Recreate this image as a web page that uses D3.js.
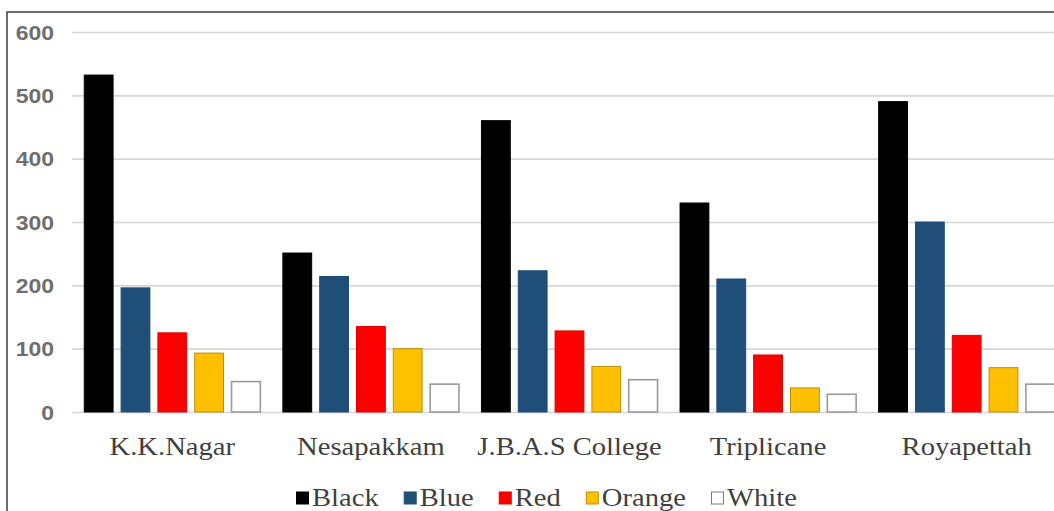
<!DOCTYPE html>
<html>
<head>
<meta charset="utf-8">
<script src="https://cdn.jsdelivr.net/npm/d3@7/dist/d3.min.js"></script>
<style>
  html, body { margin: 0; padding: 0; background: #fff; overflow: hidden; }
  svg { display: block; }
</style>
</head>
<body>
<svg id="chart" width="1054" height="511"></svg>
<script>
// Locations surveyed and the colour groups counted at each
const locations = ["K.K.Nagar", "Nesapakkam", "J.B.A.S College", "Triplicane", "Royapettah"];
const colourNames = ["Black", "Blue", "Red", "Orange", "White"];

// Counts per colour, in the order of locations
const blackCounts  = [532, 251, 460, 330, 490];
const blueCounts   = [196, 214, 223, 210, 300];
const redCounts    = [125, 135, 128, 90, 121];
const orangeCounts = [93, 100, 72, 38, 70];
const whiteCounts  = [48, 44, 51, 28, 44];

const yTicks = [0, 100, 200, 300, 400, 500, 600];

const fills   = { Black: "#000000", Blue: "#1f4e79", Red: "#ff0000", Orange: "#ffc000", White: "#ffffff" };
const strokes = { Black: "#000000", Blue: "#1f4e79", Red: "#e00000", Orange: "#b8900a", White: "#9a9a9a" };

const seriesByName = {
  Black: blackCounts, Blue: blueCounts, Red: redCounts, Orange: orangeCounts, White: whiteCounts
};

const rows = locations.map((loc, i) => {
  const r = { location: loc };
  colourNames.forEach(c => { r[c] = seriesByName[c][i]; });
  return r;
});

const svg = d3.select("#chart");
const textStretch = 1.1;

// Outer frame (left and top edges visible, the rest runs past the page)
svg.append("rect")
  .attr("x", 7).attr("y", 12)
  .attr("width", 1100).attr("height", 600)
  .attr("fill", "none")
  .attr("stroke", "#3a3a3a")
  .attr("stroke-width", 1.5);

const plotLeft = 73, plotRight = 1066, plotTop = 32, plotBottom = 412;

const x0 = d3.scaleBand()
  .domain(locations)
  .range([plotLeft, plotRight])
  .paddingInner(0.1083)
  .paddingOuter(0.0542);

const x1 = d3.scaleBand()
  .domain(colourNames)
  .range([0, x0.bandwidth()])
  .paddingInner(0.19)
  .paddingOuter(0);

const y = d3.scaleLinear().domain([0, 600]).range([plotBottom, plotTop]);

// Horizontal gridlines
const grid = svg.append("g")
  .attr("transform", `translate(${plotLeft - 1},0)`)
  .call(d3.axisLeft(y).tickValues(yTicks).tickSize(-(plotRight - plotLeft + 20)).tickFormat(""));
grid.select(".domain").remove();
grid.selectAll(".tick line")
  .attr("stroke", "#d6d6d6")
  .attr("stroke-width", 1.6);

// Y axis labels
const yAxis = svg.append("g")
  .attr("transform", "translate(54,0)")
  .call(d3.axisLeft(y).tickValues(yTicks).tickSize(0).tickPadding(0));
yAxis.select(".domain").remove();
yAxis.selectAll("text")
  .attr("fill", "#6e6e6e")
  .attr("font-family", "'Liberation Sans', Arial, sans-serif")
  .attr("font-size", 20)
  .attr("font-weight", "bold")
  .attr("dy", "0.36em")
  .attr("transform", "scale(1.15,1)");

// Bars
const groups = svg.append("g")
  .selectAll("g")
  .data(rows)
  .join("g")
  .attr("transform", d => `translate(${x0(d.location)},0)`);

groups.selectAll("rect")
  .data(d => colourNames.map(c => ({ key: c, value: d[c] })))
  .join("rect")
  .attr("x", d => x1(d.key) + 0.5)
  .attr("y", d => y(d.value))
  .attr("width", x1.bandwidth() - 1)
  .attr("height", d => y(0) - y(d.value))
  .attr("fill", d => fills[d.key])
  .attr("stroke", d => strokes[d.key])
  .attr("stroke-width", d => d.key === "White" ? 1.6 : 1);

// Category labels
const xAxis = svg.append("g")
  .attr("transform", `translate(0,${plotBottom})`)
  .call(d3.axisBottom(x0).tickSize(0).tickPadding(0));
xAxis.select(".domain").remove();
xAxis.selectAll("text")
  .attr("y", 43)
  .attr("dy", 0)
  .attr("fill", "#3f3f3f")
  .attr("font-family", "'Liberation Serif', 'Times New Roman', serif")
  .attr("font-size", 26)
  .attr("transform", `scale(${textStretch},1)`);

// Legend
const legend = svg.append("g").attr("transform", "translate(296,506)");
let cursor = 0;
colourNames.forEach(c => {
  const item = legend.append("g").attr("transform", `translate(${cursor},0)`);
  item.append("rect")
    .attr("x", 0.5).attr("y", -14)
    .attr("width", 12).attr("height", 12)
    .attr("fill", fills[c])
    .attr("stroke", c === "White" ? "#7a7a7a" : strokes[c])
    .attr("stroke-width", 1);
  const t = item.append("text")
    .attr("x", 0)
    .attr("y", 0)
    .attr("fill", "#3f3f3f")
    .attr("font-family", "'Liberation Serif', 'Times New Roman', serif")
    .attr("font-size", 26)
    .attr("transform", `translate(16,0) scale(${textStretch},1)`)
    .text(c);
  cursor += 16 + t.node().getComputedTextLength() * textStretch + 25;
});
</script>
</body>
</html>
